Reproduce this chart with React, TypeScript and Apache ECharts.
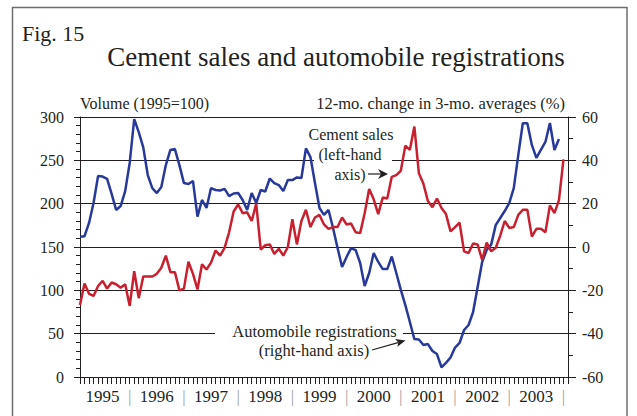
import React, { useEffect, useRef } from 'react';
import * as echarts from 'echarts';

const years = ['1995', '1996', '1997', '1998', '1999', '2000', '2001', '2002', '2003'];
const monthCategories: string[] = [];
years.forEach((y) => {
  for (let m = 1; m <= 12; m++) monthCategories.push(`${y}-${m < 10 ? '0' + m : m}`);
});
monthCategories.push('2004-01');

// Cement sales, volume (1995=100), left-hand axis
const cementSales = [
  83, 108, 96, 93.5, 105, 111, 102, 109, 107, 103, 107, 82,
  122, 91, 116, 116, 116, 119, 126, 140, 121, 121, 100, 102,
  133, 119, 101, 130, 124, 132, 146, 140, 149, 167, 191, 199,
  189, 190, 180, 200, 147, 152, 153, 142, 148, 140, 150, 182,
  153, 180, 193, 173, 184, 187, 176, 171, 173, 173, 184, 176,
  177, 167, 166, 189, 217, 205, 188, 207, 206, 231, 233, 238,
  267, 262, 289, 235, 223, 203, 196, 206, 195, 188, 168, 173,
  178, 145, 143, 154, 153, 135, 155, 145, 149, 163, 180, 172,
  173, 187, 193, 193, 162, 171, 171, 167, 198, 189, 204, 251,
];

// Automobile registrations, 12-mo. change in 3-mo. averages (%), right-hand axis
const autoRegistrations = [
  4.7, 5.0, 11.1, 20.3, 32.8, 32.5, 31.4, 24.5, 17.1, 18.9, 25.8, 38.8,
  59, 53, 46, 33.2, 27.2, 24.9, 27.7, 37.8, 44.8, 45.2, 37.8, 29.5,
  29.1, 30.5, 14, 21.7, 18, 27.2, 26.3, 26.1, 26.8, 23.5, 24.7, 24.9,
  21.7, 17.1, 24.9, 20.3, 26.3, 25.6, 31.6, 29.5, 28.6, 25.8, 30.9, 30.9,
  32.1, 31.8, 45.5, 41.5, 29.5, 18, 14.8, 17.1, 8.8, -0.5, -9.2, -4.6,
  -0.5, -1.4, -7.4, -18, -12, -2.8, -6.9, -10.2, -10.2, -4.4, -12, -19.8,
  -26.8, -34.6, -42.5, -42.7, -45.2, -44.8, -48, -49.4, -55.5, -53.5, -51, -46.4,
  -44.3, -38.3, -36, -30, -18.5, -6.9, -1.4, 1.1, 10.1, 13.4, 16.6, 20.3,
  27.2, 42.5, 57.1, 57.1, 47.1, 41.1, 44.8, 48.5, 57.2, 44.8, 49.8,
];

const FONT = '"Liberation Serif", "Times New Roman", serif';
const INK = '#231f20';

export default function App() {
  const ref = useRef<HTMLDivElement>(null);
  useEffect(() => {
    if (!ref.current) return;
    const chart = echarts.init(ref.current, null, { renderer: 'svg' });
    const txt = (text: string, x: number, y: number, size: number, align: string, z = 10) => ({
      type: 'text',
      x,
      y,
      z,
      style: {
        text,
        fill: INK,
        font: `${size}px ${FONT}`,
        align,
        textAlign: align,
        verticalAlign: 'middle',
        textVerticalAlign: 'middle',
      },
    });
    const option: any = {
      animation: false,
      backgroundColor: '#ffffff',
      grid: { left: 80, right: 69, top: 117, bottom: 39, containLabel: false },
      xAxis: {
        type: 'category',
        data: monthCategories,
        boundaryGap: false,
        axisLine: { show: true, lineStyle: { color: INK, width: 1 } },
        axisTick: { show: true, interval: 0, length: 7, lineStyle: { color: INK, width: 1 } },
        axisLabel: {
          interval: (i: number) => i % 12 === 5 || i % 12 === 11,
          formatter: (_v: string, i: number) =>
            i % 12 === 5 ? years[Math.floor(i / 12)] : '{s||}',
          rich: { s: { color: '#a0a0a0', fontSize: 17, fontFamily: FONT } },
          color: INK,
          fontSize: 17,
          fontFamily: FONT,
          margin: 11,
        },
        splitLine: { show: false },
      },
      yAxis: [
        {
          type: 'value',
          min: 0,
          max: 300,
          interval: 50,
          position: 'left',
          axisLine: { show: true, lineStyle: { color: INK, width: 1 } },
          axisTick: { show: true, length: 6, lineStyle: { color: INK } },
          minorTick: { show: true, splitNumber: 5, length: 4, lineStyle: { color: INK } },
          splitLine: { show: true, lineStyle: { color: INK, width: 1 } },
          axisLabel: { color: INK, fontSize: 16, fontFamily: FONT, margin: 16 },
        },
        {
          type: 'value',
          min: -60,
          max: 60,
          interval: 20,
          position: 'right',
          axisLine: { show: true, lineStyle: { color: INK, width: 1 } },
          axisTick: { show: true, length: 8, lineStyle: { color: INK } },
          minorTick: { show: true, splitNumber: 2, length: 5, lineStyle: { color: INK } },
          splitLine: { show: false },
          axisLabel: { color: INK, fontSize: 16, fontFamily: FONT, margin: 14 },
        },
      ],
      series: [
        {
          name: 'Automobile registrations',
          type: 'line',
          yAxisIndex: 1,
          data: autoRegistrations,
          symbol: 'none',
          lineStyle: { color: '#27399a', width: 2.5 },
          itemStyle: { color: '#27399a' },
        },
        {
          name: 'Cement sales',
          type: 'line',
          yAxisIndex: 0,
          data: cementSales,
          symbol: 'none',
          lineStyle: { color: '#c8202f', width: 2.5 },
          itemStyle: { color: '#c8202f' },
        },
      ],
      graphic: [
        {
          type: 'rect',
          z: 0,
          shape: { x: 12.5, y: 7.5, width: 614.5, height: 430 },
          style: { fill: 'none', stroke: '#6d6e71', lineWidth: 1.5 },
        },
        txt('Fig. 15', 22, 33, 22, 'left'),
        txt('Cement sales and automobile registrations', 336, 57, 27, 'center'),
        txt('Volume (1995=100)', 80, 103, 16, 'left'),
        txt('12-mo. change in 3-mo. averages (%)', 565, 103, 16.5, 'right'),
        {
          type: 'rect',
          z: 1,
          shape: { x: 314, y: 150, width: 78, height: 16 },
          style: { fill: '#ffffff' },
        },
        txt('Cement sales', 351, 134, 16, 'center'),
        txt('(left-hand', 350, 154, 16, 'center'),
        txt('axis)', 350, 174, 16, 'center'),
        {
          type: 'line',
          z: 10,
          shape: { x1: 368, y1: 174, x2: 381, y2: 174 },
          style: { stroke: INK, lineWidth: 1.2 },
        },
        {
          type: 'polygon',
          z: 10,
          shape: { points: [[388, 174], [378, 169], [381, 174], [378, 179]] },
          style: { fill: INK },
        },
        {
          type: 'rect',
          z: 1,
          shape: { x: 215, y: 326, width: 188, height: 16 },
          style: { fill: '#ffffff' },
        },
        txt('Automobile registrations', 314.5, 331, 16.5, 'center'),
        txt('(right-hand axis)', 314, 350, 16.5, 'center'),
        {
          type: 'line',
          z: 10,
          shape: { x1: 372, y1: 350, x2: 398, y2: 342.6 },
          style: { stroke: INK, lineWidth: 1.2 },
        },
        {
          type: 'polygon',
          z: 10,
          shape: { points: [[405.5, 340.5], [395.2, 339.1], [398.3, 342.4], [397.4, 346.8]] },
          style: { fill: INK },
        },
      ],
    };
    chart.setOption(option);
    return () => chart.dispose();
  }, []);
  return (
    <div
      ref={ref}
      style={{ position: 'fixed', left: 0, top: 0, width: 637, height: 416, background: '#fff' }}
    />
  );
}
